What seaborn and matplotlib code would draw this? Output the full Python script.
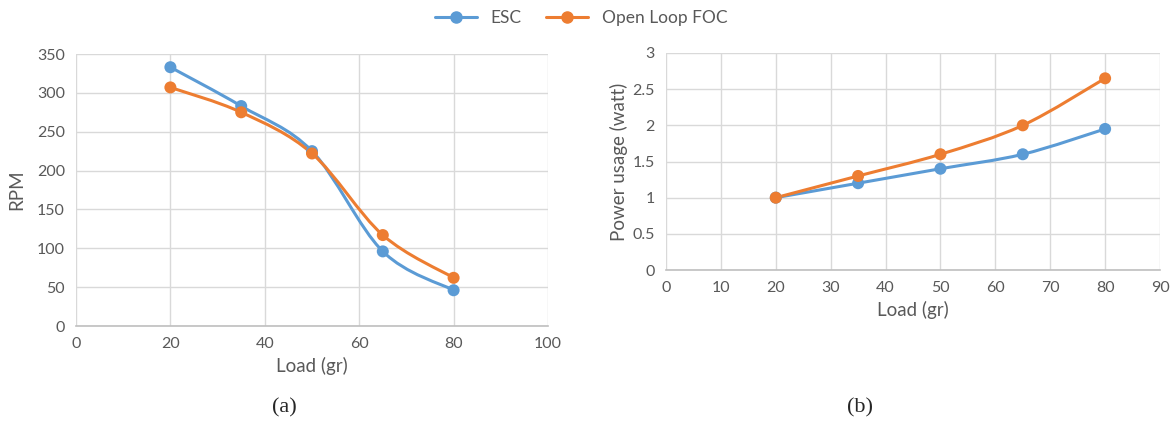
import numpy as np
import matplotlib
matplotlib.use("Agg")
import matplotlib.pyplot as plt
from matplotlib.path import Path
from matplotlib.patches import PathPatch
from matplotlib.lines import Line2D
import seaborn as sns
import pandas as pd

load = [20, 35, 50, 65, 80]
rpm_esc = [333, 283, 225, 96, 46]
rpm_foc = [307, 275, 222, 117, 62]
pw_esc = [1.0, 1.2, 1.4, 1.6, 1.95]
pw_foc = [1.0, 1.3, 1.6, 2.0, 2.65]
series = ["ESC", "Open Loop FOC"]
colors = {"ESC": "#5B9BD5", "Open Loop FOC": "#ED7D31"}

sns.set_theme(style="white")
plt.rcParams['font.family'] = ['Lato', 'DejaVu Sans']

fig = plt.figure(figsize=(11.74, 4.25), dpi=100)
ax1 = fig.add_axes([76/1174, 1-326/425, (548-76)/1174, (326-54)/425])
ax2 = fig.add_axes([666/1174, 1-270/425, (1160-666)/1174, (270-53)/425])

def smooth(ax, x, y, color):
    x = np.asarray(x, float); y = np.asarray(y, float)
    verts = [(x[0], y[0])]; codes = [Path.MOVETO]
    n = len(x)
    for i in range(n - 1):
        p0 = np.array([x[max(i-1, 0)], y[max(i-1, 0)]])
        p1 = np.array([x[i], y[i]])
        p2 = np.array([x[i+1], y[i+1]])
        p3 = np.array([x[min(i+2, n-1)], y[min(i+2, n-1)]])
        c1 = p1 + (p2 - p0) / 6
        c2 = p2 - (p3 - p1) / 6
        verts += [tuple(c1), tuple(c2), tuple(p2)]
        codes += [Path.CURVE4] * 3
    ax.add_patch(PathPatch(Path(verts, codes), fill=False, edgecolor=color, lw=2.2, zorder=3))

def panel(ax, yesc, yfoc):
    df = pd.DataFrame({"load": load * 2, "val": yesc + yfoc,
                       "series": [series[0]] * 5 + [series[1]] * 5})
    for s, yy in zip(series, [yesc, yfoc]):
        smooth(ax, load, yy, colors[s])
    sns.scatterplot(data=df, x="load", y="val", hue="series", palette=colors,
                    s=75, edgecolor="none", ax=ax, legend=False, zorder=4)

panel(ax1, rpm_esc, rpm_foc)
panel(ax2, pw_esc, pw_foc)

grid_c = "#D9D9D9"
tick_c = "#595959"
for ax in (ax1, ax2):
    ax.grid(True, color=grid_c, lw=1)
    ax.set_axisbelow(True)
    for sp in ["top", "right", "left"]:
        ax.spines[sp].set_visible(False)
    ax.spines["bottom"].set_color("#BFBFBF")
    ax.spines["bottom"].set_linewidth(1.2)
    ax.tick_params(length=0, labelsize=11.5, colors=tick_c, pad=8)
    ax.set_facecolor("white")

ax1.set_xlim(0, 100); ax1.set_xticks(range(0, 101, 20))
ax1.set_ylim(0, 350); ax1.set_yticks(range(0, 351, 50))
ax1.set_xlabel("Load (gr)", fontsize=13.5, color=tick_c, labelpad=4)
ax1.set_ylabel("RPM", fontsize=13.5, color=tick_c, labelpad=8)

ax2.set_xlim(0, 90); ax2.set_xticks(range(0, 91, 10))
ax2.set_ylim(0, 3); ax2.set_yticks([0, 0.5, 1, 1.5, 2, 2.5, 3])
ax2.set_yticklabels(["0", "0.5", "1", "1.5", "2", "2.5", "3"])
ax2.set_xlabel("Load (gr)", fontsize=13.5, color=tick_c, labelpad=4)
ax2.set_ylabel("Power usage (watt)", fontsize=13.5, color=tick_c, labelpad=3)

handles = [Line2D([0], [0], color=colors[s], lw=2.2, marker="o", markersize=8) for s in series]
fig.legend(handles, series, loc="center", bbox_to_anchor=(0.495, 1-18/425), ncol=2,
           frameon=False, fontsize=12.5, handlelength=2.4, columnspacing=1.4,
           labelcolor=tick_c)

fig.text(284/1174, 1-408/425, "(a)", family="Liberation Serif", fontsize=16, ha="center", va="center")
fig.text(860/1174, 1-408/425, "(b)", family="Liberation Serif", fontsize=16, ha="center", va="center")

fig.savefig("out.png", dpi=100, facecolor="white")
